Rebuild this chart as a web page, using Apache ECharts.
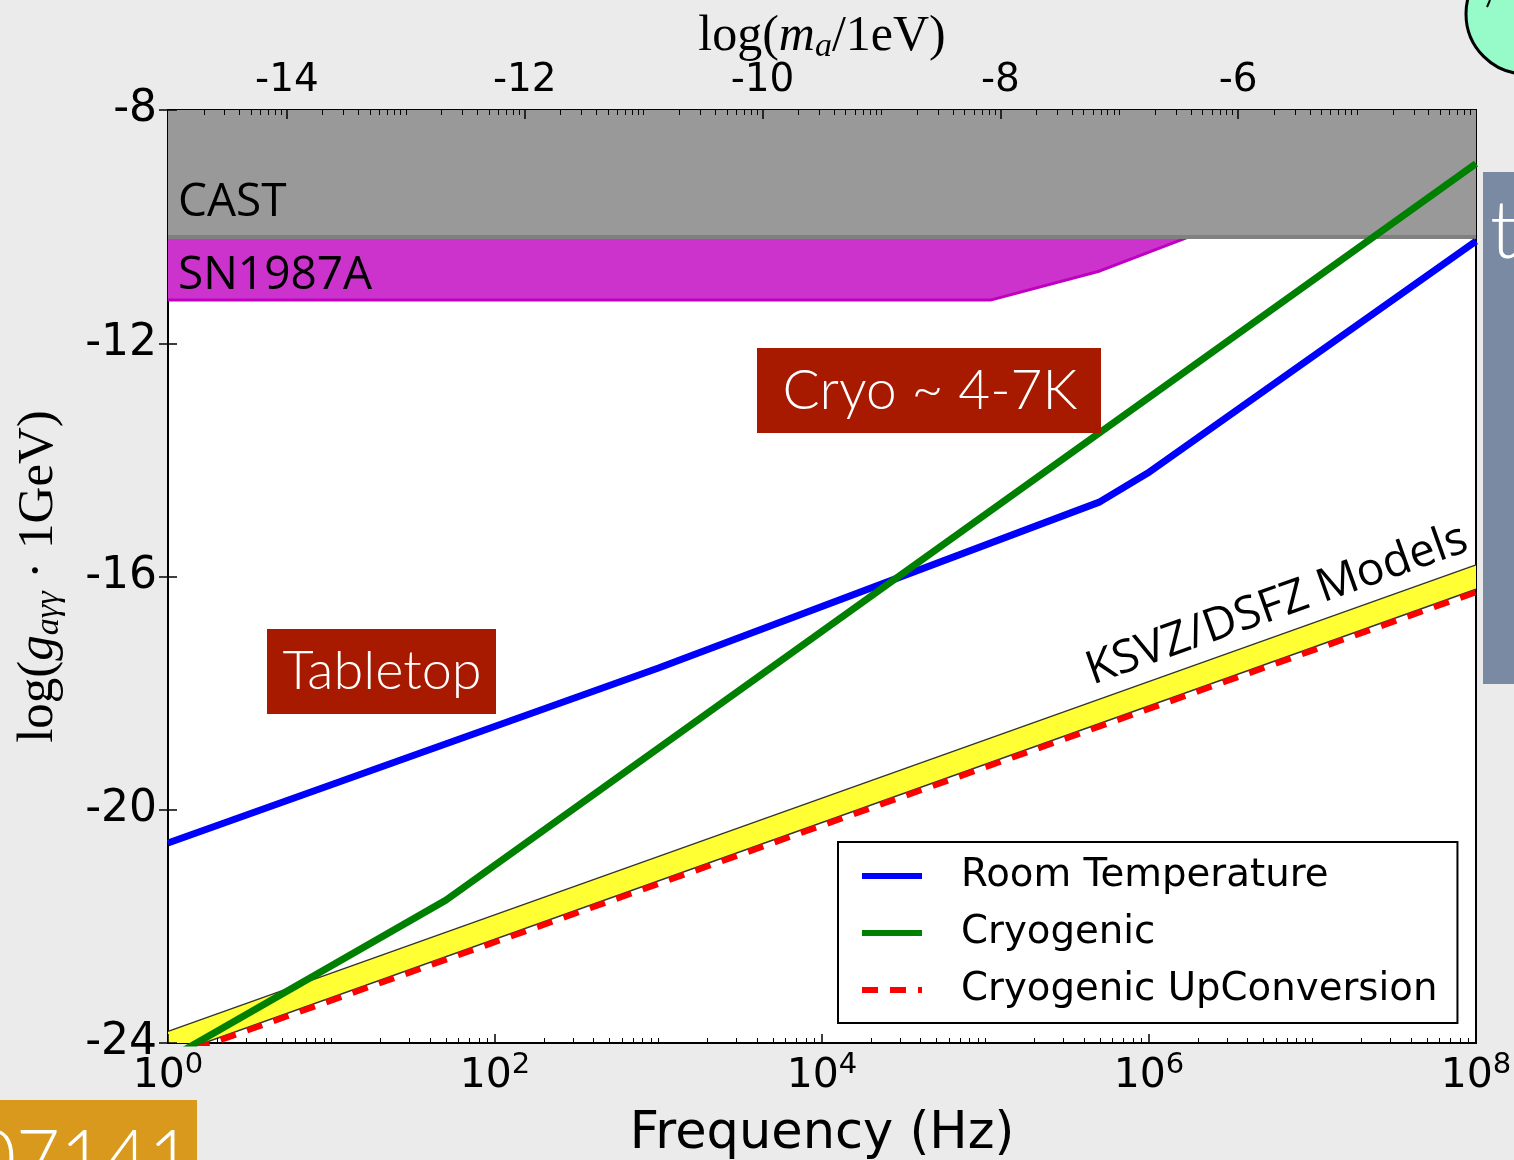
<!DOCTYPE html>
<html>
<head>
<meta charset="utf-8">
<title>Axion coupling vs frequency</title>
<script src="https://cdn.jsdelivr.net/npm/echarts@6/dist/echarts.min.js"></script>
<style>
  html, body { margin: 0; padding: 0; background: #ebebeb; }
  #chart { width: 1514px; height: 1160px; }
</style>
</head>
<body>
<div id="chart"></div>
<script>
  // all x values are log10(frequency / Hz), y values are log10(g * 1GeV)
  const roomX = [0, 3, 5.7, 5.99, 8];
  const roomY = [-20.57, -17.57, -14.72, -14.23, -10.25];
  const cryoX = [0, 1.7, 8];
  const cryoY = [-24.28, -21.55, -8.92];
  const upConvX = [0, 8];
  const upConvY = [-24.27, -16.27];
  const ksvzX = [0, 8];
  const ksvzTop = [-23.8, -15.8];
  const ksvzBottom = [-24.22, -16.22];
  const castX = [0, 8];
  const castY = [-10.18, -10.18];
  const snX = [0, 5.03, 5.7, 6.24];
  const snY = [-11.26, -11.26, -10.76, -10.18];

  const freqLabels = [0, 2, 4, 6, 8];
  const massLabels = [-14, -12, -10, -8, -6];

  function pairs(xs, ys) {
    return xs.map((x, i) => [x, ys[i]]);
  }

  // log-spaced minor ticks, one set per decade
  function minorTicks(start, decades, skip) {
    let out = [];
    for (let n = 0; n < decades; n++) {
      for (let k = 2; k <= 9; k++) out.push(start + n + Math.log10(k));
      if (n > 0 && skip.indexOf(start + n) < 0) out.push(start + n);
    }
    return out;
  }

  let chart = echarts.init(document.getElementById('chart'));

  const tickFont = 'DejaVu Sans';
  const serif = 'Liberation Serif';

  let option = {
    animation: false,
    backgroundColor: '#ebebeb',
    grid: {
      left: 168, top: 110, right: 38, bottom: 117,
      outerBoundsMode: 'none',
      show: true, backgroundColor: '#fff',
      borderColor: '#000', borderWidth: 2
    },
    legend: {
      left: 838, top: 842,
      orient: 'vertical',
      backgroundColor: '#fff',
      borderColor: '#000', borderWidth: 2, borderRadius: 0,
      padding: [14, 20, 13, 21],
      itemWidth: 60, itemHeight: 20, itemGap: 17,
      itemStyle: { opacity: 0 },
      lineStyle: { width: 6 },
      textStyle: { fontFamily: tickFont, fontSize: 38.7, color: '#000', lineHeight: 40, padding: [0, 0, 0, 34] },
      data: ['Room Temperature', 'Cryogenic', 'Cryogenic UpConversion']
    },
    xAxis: [
      {
        type: 'value', min: 0, max: 8, interval: 2, position: 'bottom', z: 10,
        axisLine: { show: false }, splitLine: { show: false },
        axisTick: { inside: true, length: 9, lineStyle: { color: '#000', width: 1.5 } },
        axisLabel: {
          margin: 8,
          formatter: v => '{b|10}{s|' + v + '}',
          rich: {
            b: { fontFamily: tickFont, fontSize: 41, color: '#000', lineHeight: 46, verticalAlign: 'bottom' },
            s: { fontFamily: tickFont, fontSize: 29, color: '#000', lineHeight: 30, verticalAlign: 'top' }
          }
        },
        name: 'Frequency (Hz)', nameLocation: 'middle', nameGap: 66, nameMoveOverlap: false,
        nameTextStyle: { fontFamily: tickFont, fontSize: 51, color: '#000' }
      },
      {
        type: 'value', min: 0, max: 8, position: 'bottom', z: 10,
        axisLine: { show: false }, splitLine: { show: false },
        axisLabel: { show: false },
        axisTick: { inside: true, length: 5, customValues: minorTicks(0, 8, freqLabels), lineStyle: { color: '#000', width: 1 } }
      },
      {
        type: 'value', min: -15, max: -4, position: 'top', z: 10,
        axisLine: { show: false }, splitLine: { show: false },
        axisTick: { inside: true, length: 9, customValues: massLabels, lineStyle: { color: '#000', width: 1.5 } },
        axisLabel: { customValues: massLabels, margin: 10, fontFamily: tickFont, fontSize: 39, color: '#000' },
        name: 'log({it|m}{sub|a}/1eV)', nameLocation: 'middle', nameGap: 46, nameMoveOverlap: false,
        nameTextStyle: {
          fontFamily: serif, fontSize: 50, color: '#000', lineHeight: 54,
          rich: {
            it: { fontFamily: serif, fontStyle: 'italic', fontSize: 50, color: '#000', lineHeight: 54 },
            sub: { fontFamily: serif, fontStyle: 'italic', fontSize: 34, color: '#000', lineHeight: 34, verticalAlign: 'bottom' }
          }
        }
      },
      {
        type: 'value', min: -15, max: -4, position: 'top', z: 10,
        axisLine: { show: false }, splitLine: { show: false },
        axisLabel: { show: false },
        axisTick: { inside: true, length: 5, customValues: minorTicks(-15, 11, massLabels), lineStyle: { color: '#000', width: 1 } }
      }
    ],
    yAxis: [
      {
        type: 'value', min: -24, max: -8, interval: 4, position: 'left', z: 10,
        axisLine: { show: false }, splitLine: { show: false },
        axisTick: { inside: true, length: 9, lineStyle: { color: '#000', width: 1.5 } },
        axisLabel: { margin: 11, fontFamily: tickFont, fontSize: 44, color: '#000' },
        name: 'log({it|g}{sub|aγγ} · 1GeV)', nameLocation: 'middle', nameGap: 102, nameRotate: 90,
        nameTextStyle: {
          fontFamily: serif, fontSize: 51, color: '#000', lineHeight: 54,
          rich: {
            it: { fontFamily: serif, fontStyle: 'italic', fontSize: 51, color: '#000', lineHeight: 54 },
            sub: { fontFamily: serif, fontStyle: 'italic', fontSize: 34, color: '#000', lineHeight: 34, verticalAlign: 'bottom' }
          }
        }
      },
      {
        type: 'value', min: -24, max: -8, interval: 4, position: 'right', z: 10,
        axisLine: { show: false }, splitLine: { show: false },
        axisTick: { inside: true, length: 9, lineStyle: { color: '#000', width: 1.5 } },
        axisLabel: { show: false }
      }
    ],
    series: [
      {
        name: 'SN1987A', type: 'line', data: pairs(snX, snY), symbol: 'none', z: 1,
        lineStyle: { color: '#c000c0', width: 3 },
        areaStyle: { color: '#cc33cc', opacity: 1, origin: 'end' }
      },
      {
        name: 'CAST', type: 'line', data: pairs(castX, castY), symbol: 'none', z: 2,
        lineStyle: { color: '#808080', width: 4 },
        areaStyle: { color: '#999999', opacity: 1, origin: 'end' }
      },
      {
        // yellow band between the two axion model lines
        name: 'KSVZ/DSFZ', type: 'custom', z: 3, clip: true,
        data: [[ksvzX[0], ksvzTop[0]]],
        renderItem: function (params, api) {
          let pts = ksvzX.map((x, i) => api.coord([x, ksvzTop[i]]));
          for (let i = ksvzX.length - 1; i >= 0; i--) pts.push(api.coord([ksvzX[i], ksvzBottom[i]]));
          return { type: 'polygon', shape: { points: pts }, style: { fill: '#ffff33' } };
        }
      },
      {
        name: 'KSVZ top', type: 'line', data: pairs(ksvzX, ksvzTop), symbol: 'none', z: 4,
        lineStyle: { color: '#333', width: 1.5 }
      },
      {
        name: 'KSVZ bottom', type: 'line', data: pairs(ksvzX, ksvzBottom), symbol: 'none', z: 4,
        lineStyle: { color: '#333', width: 1.5 }
      },
      {
        name: 'Room Temperature', type: 'line', data: pairs(roomX, roomY), symbol: 'none', z: 5,
        lineStyle: { color: '#0000ff', width: 7 }, itemStyle: { color: '#0000ff' }
      },
      {
        name: 'Cryogenic', type: 'line', data: pairs(cryoX, cryoY), symbol: 'none', z: 5,
        lineStyle: { color: '#008000', width: 7 }, itemStyle: { color: '#008000' }
      },
      {
        name: 'Cryogenic UpConversion', type: 'line', data: pairs(upConvX, upConvY), symbol: 'none', z: 5,
        lineStyle: { color: '#ff0000', width: 6, type: [16, 12] }, itemStyle: { color: '#ff0000' }
      }
    ],
    graphic: [
      // region labels inside the plot
      { type: 'text', left: 178, top: 180, z: 50, style: { text: 'CAST', font: '46px "Open Sans"', fill: '#000' } },
      { type: 'text', left: 178, top: 253, z: 50, style: { text: 'SN1987A', font: '46px "Open Sans"', fill: '#000' } },
      {
        type: 'text', x: 1277, y: 605, rotation: 19.6 * Math.PI / 180, z: 50,
        style: { text: 'KSVZ/DSFZ Models', font: '46px "Open Sans"', fill: '#000', align: 'center', verticalAlign: 'middle' }
      },
      // slide overlays
      { type: 'rect', z: 60, shape: { x: 267, y: 629, width: 229, height: 85 }, style: { fill: '#a81a00' } },
      { type: 'text', z: 61, x: 382, y: 672, style: { text: 'Tabletop', font: '300 54px Lato', fill: '#fff', align: 'center', verticalAlign: 'middle' } },
      { type: 'rect', z: 60, shape: { x: 757, y: 348, width: 344, height: 85 }, style: { fill: '#a81a00' } },
      { type: 'text', z: 61, x: 930, y: 391, style: { text: 'Cryo ~ 4-7K', font: '300 55px Lato', fill: '#fff', align: 'center', verticalAlign: 'middle' } },
      { type: 'rect', z: 60, shape: { x: 1483, y: 172, width: 40, height: 512 }, style: { fill: '#7a8aa3' } },
      { type: 'text', z: 61, x: 1490, y: 232, style: { text: 't', font: '300 80px Lato', fill: '#fff', verticalAlign: 'middle' } },
      { type: 'rect', z: 60, shape: { x: 0, y: 1100, width: 197, height: 60 }, style: { fill: '#d8991c' } },
      { type: 'text', z: 61, x: -28, y: 1160, style: { text: '07141', font: '300 76px Lato', fill: '#fff', verticalAlign: 'middle' } },
      { type: 'circle', z: 60, shape: { cx: 1526, cy: 14, r: 60 }, style: { fill: '#96fbc9', stroke: '#000', lineWidth: 3 } },
      { type: 'line', z: 61, shape: { x1: 1490, y1: 0, x2: 1487, y2: 7 }, style: { stroke: '#000', lineWidth: 2 } }
    ]
  };

  chart.setOption(option);
</script>
</body>
</html>
